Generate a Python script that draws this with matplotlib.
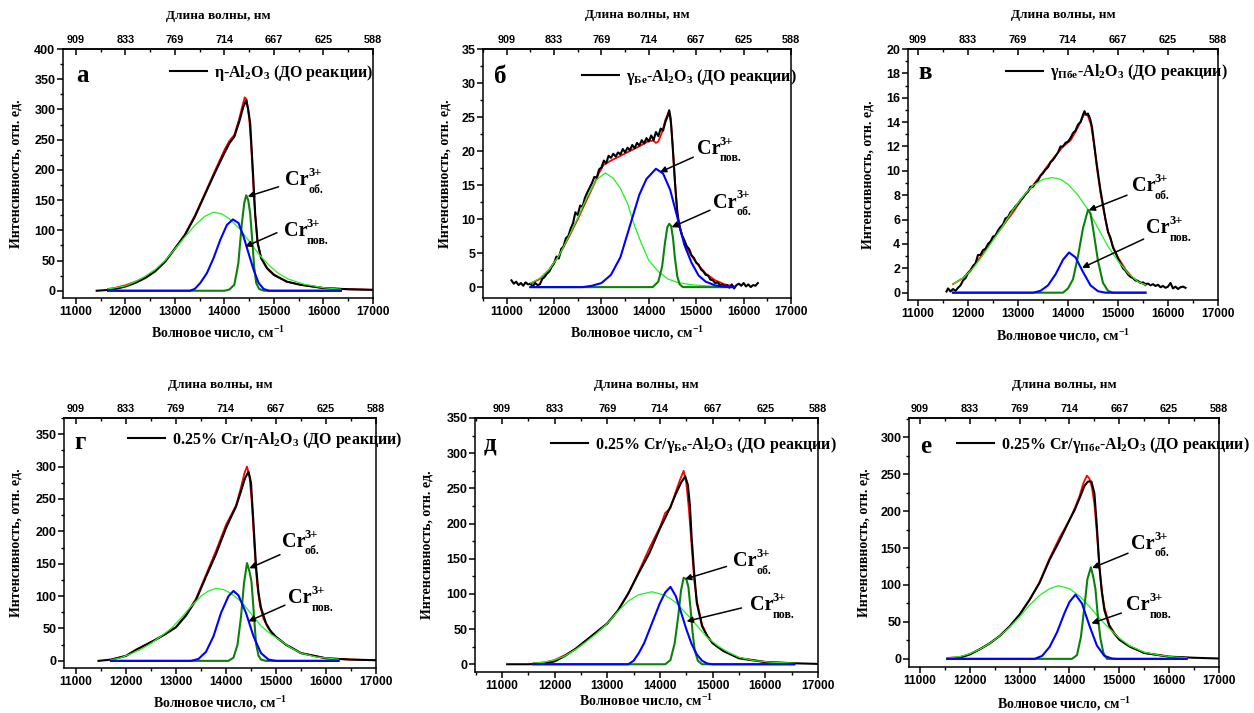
import matplotlib
matplotlib.use("Agg")
import matplotlib.pyplot as plt
from matplotlib.ticker import MultipleLocator
from matplotlib.lines import Line2D

plt.rcParams["font.family"] = ["Liberation Serif", "DejaVu Serif"]
plt.rcParams["font.weight"] = "bold"
plt.rcParams["mathtext.fontset"] = "custom"
plt.rcParams["mathtext.rm"] = "Liberation Serif:bold"
plt.rcParams["mathtext.bf"] = "Liberation Serif:bold"
plt.rcParams["mathtext.it"] = "Liberation Serif:bold"

# ---------------- common axis data ----------------
wn_ticks = [11000, 12000, 13000, 14000, 15000, 16000, 17000]
nm_labels = ["909", "833", "769", "714", "667", "625", "588"]

# ---------------- panel а: eta-Al2O3 ----------------
a_black_x = [11420, 11600, 11800, 12000, 12200, 12400, 12600, 12800, 13000, 13200, 13400, 13600, 13800, 14000,
             14100, 14200, 14300, 14380, 14440, 14480, 14520, 14570, 14620, 14670, 14740, 14860, 15000, 15260,
             15530, 16000, 16500, 17000]
a_black_y = [0, 1, 3, 7, 13, 21, 32, 48, 70, 92, 122, 158, 194, 228, 244, 255, 280, 304, 315, 300, 277, 205, 128,
             79, 54, 37, 26, 15, 10, 4.4, 2.5, 1.5]
a_red_x = [11650, 11800, 12000, 12200, 12400, 12600, 12800, 13000, 13200, 13400, 13600, 13800, 14000, 14100, 14200,
           14300, 14360, 14410, 14450, 14500, 14540, 14580, 14620, 14670, 14740, 14860, 15000, 15260, 15530, 16000,
           16500, 17000]
a_red_y = [3, 5, 9, 15, 22, 33, 48, 69, 93, 124, 160, 197, 233, 248, 258, 285, 305, 320, 316, 285, 240, 180, 125, 80,
           55, 38, 27, 15, 10, 4.5, 2.5, 1.5]
a_lg_x = [11650, 11800, 12000, 12200, 12400, 12600, 12800, 13000, 13200, 13400, 13600, 13780, 13950, 14100, 14300,
          14500, 14700, 14900, 15100, 15300, 15600, 16000, 16350]
a_lg_y = [3, 5, 8, 15, 24, 35, 50, 69, 89, 108, 123, 130, 127, 119, 103, 82, 60, 42, 28, 19, 11, 5, 2.5]
a_blue_x = [11650, 13300, 13400, 13510, 13645, 13780, 13915, 14050, 14170, 14285, 14385, 14487, 14588, 14690, 14790,
            14900, 16350]
a_blue_y = [0, 0, 3, 12.6, 29, 54, 84, 109, 118, 112, 90, 62, 35, 13, 3, 0, 0]
a_dg_x = [11650, 14000, 14100, 14200, 14280, 14350, 14400, 14440, 14480, 14520, 14560, 14600, 14640, 14700, 14800,
          16350]
a_dg_y = [0, 0, 2, 10, 45, 110, 145, 158, 150, 128, 85, 40, 13, 3, 0, 0]

# ---------------- panel б: gamma(Бе)-Al2O3 ----------------
b_black_x = sorted(list(range(11100, 14450, 50)) + [14430, 14460] + list(range(14500, 16350, 50)))
b_black_y = [1.0, 0.5, 0.8, 0.3, 0.6, 0.2, 0.7, 0.4, 0.5, 0.1, 0.6, 0.3, 0.4, 1.2, 1.5, 2.0, 2.3, 3.0, 3.5, 4.5,
             4.2, 5.6, 6.0, 7.2, 7.5, 8.6, 9.4, 11.0, 10.6, 12.0, 11.8, 13.1, 13.9, 14.6, 15.3, 16.2, 16.1, 17.3,
             17.6, 18.6, 18.2, 19.3, 19.0, 19.6, 19.2, 19.8, 19.5, 20.3, 19.8, 20.5, 20.1, 20.9, 20.4, 21.2, 20.8,
             21.6, 21.1, 21.9, 21.4, 22.3, 21.6, 22.8, 22.2, 23.3, 23.0, 24.3, 25.2, 26.0, 24.8, 21.0, 15.5, 11.0,
             8.8, 7.6, 6.9, 6.0, 5.6, 4.7, 4.3, 3.6, 3.3, 2.6, 2.3, 1.8, 1.7, 1.1, 1.0, 0.6, 0.7, 0.3, 0.4, 0.1, 0.3,
             -0.1, 0.4, -0.2, 0.3, 0.5, 0.2, 0.6, 0.1, 0.4, 0.0, 0.3, 0.2, 0.6]
b_red_x = [11500, 11700, 11900, 12100, 12300, 12500, 12700, 12850, 12950, 13050, 13200, 13400, 13600, 13800, 14000,
           14100, 14150, 14200, 14280, 14350, 14420, 14470, 14520, 14570, 14620, 14700, 14800, 14900, 15000, 15200,
           15400, 15600, 15800]
b_red_y = [0.5, 1.2, 2.6, 4.6, 7.2, 10.0, 13.0, 15.2, 16.8, 18.0, 18.6, 19.3, 20.0, 20.7, 21.5, 21.5, 21.2, 21.4,
           22.8, 24.6, 25.8, 24.0, 19.0, 13.5, 9.8, 7.6, 5.8, 4.6, 3.6, 2.0, 1.0, 0.4, 0.1]
b_lg_x = [11500, 11700, 11900, 12100, 12300, 12500, 12700, 12900, 13080, 13250, 13400, 13550, 13700, 13850, 14000,
          14200, 14400, 14600, 14900, 15300, 15800]
b_lg_y = [0.6, 1.3, 2.6, 4.6, 7.3, 10.2, 13.3, 15.8, 16.8, 16.0, 14.5, 12.3, 9.0, 6.3, 3.9, 2.3, 1.2, 0.7, 0.35,
          0.15, 0.05]
b_blue_x = [11500, 12600, 12800, 13000, 13200, 13400, 13600, 13800, 13950, 14150, 14300, 14450, 14600, 14750, 14900,
            15050, 15200, 15400, 15600, 15800]
b_blue_y = [0, 0, 0.2, 0.6, 1.8, 4.4, 9.0, 13.6, 15.9, 17.4, 16.7, 14.3, 10.3, 6.2, 3.6, 1.7, 0.8, 0.25, 0.05, 0]
b_dg_x = [11500, 14080, 14200, 14280, 14340, 14390, 14430, 14470, 14510, 14550, 14600, 14650, 14720, 15800]
b_dg_y = [0, 0, 0.8, 3.0, 6.5, 8.8, 9.3, 9.0, 7.2, 4.3, 1.6, 0.4, 0, 0]

# ---------------- panel в: gamma(Пбе)-Al2O3 ----------------
c_black_x = [11570] + list(range(11600, 14300, 50)) + [14300, 14330, 14360, 14400, 14440, 14480, 14520, 14560] + \
    list(range(14600, 16400, 50))
c_black_y = [0.1, 0.35, 0.1, 0.3, 0.15, 0.4, 0.6, 1.0, 1.2, 1.6, 1.8, 2.2, 2.4, 3.1, 3.1, 3.5, 3.6, 4.0, 4.2, 4.6,
             4.7, 5.1, 5.4, 5.6, 6.1, 6.2, 6.6, 6.8, 7.1, 7.3, 7.6, 7.8, 8.1, 8.3, 8.7, 8.7, 9.0, 9.2, 9.6, 9.8,
             10.1, 10.3, 10.7, 10.9, 11.2, 11.5, 12.0, 12.0, 12.3, 12.4, 12.7, 13.1, 13.3, 13.8, 14.0,
             14.6, 14.9, 14.6, 14.7, 14.3, 13.6, 12.3, 11.0,
             9.8, 8.4, 7.2, 6.0, 5.0, 4.5, 3.7, 3.3, 2.8, 2.4, 2.0, 1.8, 1.5, 1.3, 1.2, 1.0, 0.95, 0.8, 0.85, 0.7,
             0.75, 0.6, 0.7, 0.55, 0.65, 0.45, 0.55, 0.4, 0.5, 0.8, 0.35, 0.5, 0.3, 0.45, 0.5, 0.4]
c_red_x = [11700, 11900, 12100, 12300, 12500, 12700, 12900, 13100, 13300, 13500, 13700, 13900, 14050, 14150, 14250,
           14330, 14400, 14460, 14520, 14580, 14650, 14720, 14800, 14900, 15000, 15150, 15300, 15550]
c_red_y = [0.7, 1.2, 2.1, 3.2, 4.4, 5.5, 6.6, 7.8, 8.8, 9.9, 11.0, 12.0, 12.5, 13.2, 14.0, 14.7, 14.5, 13.8, 12.2,
           10.2, 8.2, 6.6, 5.0, 3.8, 2.9, 1.9, 1.2, 0.6]
c_lg_x = [11700, 11900, 12100, 12300, 12500, 12700, 12900, 13100, 13300, 13500, 13680, 13850, 14000, 14200, 14400,
          14600, 14800, 15000, 15200, 15400, 15550]
c_lg_y = [0.7, 1.2, 2.0, 3.1, 4.3, 5.5, 6.8, 7.9, 8.8, 9.3, 9.45, 9.3, 8.9, 8.0, 6.8, 5.3, 3.8, 2.6, 1.6, 0.9, 0.65]
c_blue_x = [11700, 13300, 13450, 13600, 13750, 13900, 14020, 14150, 14300, 14450, 14600, 14750, 15550]
c_blue_y = [0, 0, 0.15, 0.6, 1.5, 2.7, 3.3, 2.9, 1.7, 0.6, 0.12, 0, 0]
c_dg_x = [11700, 13900, 14000, 14100, 14200, 14300, 14400, 14450, 14500, 14600, 14700, 14800, 14900, 15550]
c_dg_y = [0, 0, 0.35, 1.1, 3.0, 5.3, 6.8, 6.5, 5.3, 2.6, 0.8, 0.15, 0, 0]

# ---------------- panel г: 0.25% Cr / eta-Al2O3 ----------------
d_black_x = [11450, 11700, 12000, 12200, 12400, 12600, 12800, 13000, 13200, 13400, 13600, 13800, 14000, 14100, 14200,
             14300, 14380, 14450, 14500, 14550, 14600, 14650, 14700, 14800, 14900, 15000, 15200, 15500, 16000,
             16500, 17000]
d_black_y = [0, 2, 7.7, 17, 25, 33, 42, 52, 70, 94, 130, 165, 205, 222, 238, 262, 282, 292, 275, 212, 146, 105, 82,
             58, 45, 37, 25, 12, 4, 2, 1]
d_red_x = [11700, 12000, 12200, 12400, 12600, 12800, 13000, 13200, 13400, 13600, 13800, 14000, 14100, 14200, 14300,
           14370, 14420, 14470, 14520, 14570, 14620, 14680, 14750, 14850, 15000, 15200, 15500, 16000, 16500, 17000]
d_red_y = [1.5, 8, 17, 25, 33, 42, 52, 71, 96, 133, 170, 210, 225, 240, 268, 290, 300, 285, 240, 175, 120, 85, 65,
           50, 37, 25, 12, 4, 2, 1]
d_lg_x = [11700, 11900, 12100, 12300, 12500, 12700, 12900, 13100, 13300, 13500, 13650, 13800, 13950, 14100, 14300,
          14500, 14700, 14900, 15100, 15300, 15500, 15800, 16250]
d_lg_y = [1.5, 5, 11, 18, 27, 38, 50, 66, 84, 100, 108, 112, 110, 104, 92, 73, 54, 41, 31, 20, 12, 6, 2.5]
d_blue_x = [11700, 13300, 13450, 13600, 13750, 13900, 14050, 14150, 14250, 14400, 14550, 14700, 14850, 15000, 16250]
d_blue_y = [0, 0, 3, 14, 38, 74, 100, 108, 101, 74, 38, 12, 2, 0, 0]
d_dg_x = [11700, 14050, 14150, 14230, 14300, 14360, 14420, 14470, 14510, 14550, 14600, 14650, 14700, 14800, 16250]
d_dg_y = [0, 0, 5, 25, 68, 120, 151, 138, 122, 80, 27, 8, 2, 0, 0]

# ---------------- panel д: 0.25% Cr / gamma(Бе)-Al2O3 ----------------
e_black_x = [11100, 11500, 11800, 12000, 12200, 12400, 12600, 12800, 13000, 13200, 13400, 13600, 13800, 14000, 14100,
             14200, 14300, 14400, 14480, 14530, 14570, 14600, 14650, 14700, 14800, 14900, 15000, 15200, 15500,
             16000, 16500, 17000]
e_black_y = [0, 0, 1, 4, 12, 22, 34, 46, 58, 76, 101, 130, 158, 193, 208, 224, 242, 258, 267, 255, 225, 182, 130, 87,
             54, 40, 30, 19, 8.5, 3, 1.5, 0.5]
e_red_x = [11600, 11800, 12000, 12200, 12400, 12600, 12800, 13000, 13200, 13400, 13600, 13800, 14000, 14100, 14200,
           14300, 14380, 14450, 14500, 14550, 14600, 14650, 14700, 14800, 14900, 15000, 15200, 15500, 16000, 16550]
e_red_y = [1.5, 2.5, 6, 13, 22, 34, 46, 58, 76, 100, 132, 165, 195, 215, 222, 245, 262, 275, 258, 220, 170, 120, 90,
           56, 40, 30, 19, 9, 3.5, 1.5]
e_lg_x = [11600, 11800, 12000, 12200, 12400, 12600, 12800, 13000, 13200, 13400, 13600, 13850, 14100, 14300, 14500,
          14700, 14900, 15100, 15300, 15500, 15800, 16100, 16550]
e_lg_y = [1.5, 3, 6, 12, 21, 32, 44, 58, 75, 90, 99, 103, 98, 88, 72, 55, 38, 26, 17, 10, 5, 3, 1.5]
e_blue_x = [11600, 13400, 13500, 13600, 13700, 13800, 13900, 14000, 14100, 14200, 14300, 14400, 14500, 14600, 14700,
            14800, 14900, 15000, 16550]
e_blue_y = [0, 0, 5, 16, 30, 49, 68, 87, 102, 110, 97, 74, 50, 29, 14, 5, 1, 0, 0]
e_dg_x = [11600, 14100, 14200, 14280, 14350, 14400, 14450, 14500, 14540, 14580, 14620, 14660, 14720, 14800, 16550]
e_dg_y = [0, 0, 6, 30, 70, 105, 123, 121, 110, 80, 45, 20, 5, 0, 0]

# ---------------- panel е: 0.25% Cr / gamma(Пбе)-Al2O3 ----------------
f_black_x = [11550, 11800, 12000, 12200, 12400, 12600, 12800, 13000, 13200, 13400, 13600, 13800, 14000, 14100, 14200,
             14300, 14370, 14440, 14500, 14550, 14600, 14650, 14700, 14800, 14900, 15000, 15200, 15500, 16000,
             16500, 17000]
f_black_y = [0, 1.5, 6, 13, 21, 31, 44, 60, 80, 103, 134, 160, 188, 201, 217, 234, 240, 240, 224, 179, 125, 90, 66,
             44, 34, 26, 17, 8, 3, 1.5, 0.5]
f_red_x = [11550, 11800, 12000, 12200, 12400, 12600, 12800, 13000, 13200, 13400, 13600, 13800, 14000, 14100, 14200,
           14280, 14350, 14400, 14450, 14500, 14550, 14600, 14650, 14700, 14800, 14900, 15000, 15200, 15500, 16000,
           16350]
f_red_y = [1.3, 2.5, 6.5, 13, 21, 31, 44, 60, 80, 104, 136, 164, 188, 203, 220, 238, 248, 244, 232, 210, 170, 125,
           92, 70, 46, 35, 27, 17, 8, 3, 1.5]
f_lg_x = [11550, 11800, 12000, 12200, 12400, 12600, 12800, 13000, 13200, 13400, 13600, 13780, 14000, 14200, 14400,
          14600, 14800, 15000, 15200, 15500, 15800, 16100, 16350]
f_lg_y = [1.3, 3, 7, 13, 21, 31, 43, 57, 73, 86, 95, 99, 95, 85, 71, 55, 41, 28, 18, 9, 5, 2.5, 1.5]
f_blue_x = [11550, 13300, 13450, 13600, 13750, 13900, 14000, 14120, 14250, 14400, 14550, 14700, 14850, 14950, 16350]
f_blue_y = [0, 0, 4, 16, 36, 62, 77, 87, 75, 45, 18, 4, 0.5, 0, 0]
f_dg_x = [11550, 14050, 14150, 14230, 14300, 14360, 14430, 14480, 14520, 14570, 14620, 14680, 14750, 16350]
f_dg_y = [0, 0, 5, 30, 71, 108, 124, 110, 95, 57, 28, 8, 0, 0]

# ---------------- text ----------------
panel_letters = ["а", "б", "в", "г", "д", "е"]
legend_labels = [
    r"η-Al$_{2}$O$_{3}$ (ДО реакции)",
    r"γ$_{Бе}$-Al$_{2}$O$_{3}$ (ДО реакции)",
    r"γ$_{Пбе}$-Al$_{2}$O$_{3}$ (ДО реакции)",
    r"0.25% Cr/η-Al$_{2}$O$_{3}$ (ДО реакции)",
    r"0.25% Cr/γ$_{Бе}$-Al$_{2}$O$_{3}$ (ДО реакции)",
    r"0.25% Cr/γ$_{Пбе}$-Al$_{2}$O$_{3}$ (ДО реакции)",
]
ion_text = "Cr"
ion_charge = "3+"
site_bulk = "об."
site_surf = "пов."
xlabel_text = r"Волновое число, см$^{-1}$"
toplabel_text = "Длина волны, нм"
ylabel_text = "Интенсивность, отн. ед."

# ---------------- layout (pixels: left, right, top, bottom) ----------------
W, H = 1254, 713
boxes = [(63, 373, 49, 298), (483, 791, 49, 298), (908, 1218, 49, 300),
         (64, 376, 418, 668), (475, 818, 418, 672), (909, 1219, 418, 667)]
xlims = [(10740, 17000), (10500, 17000), (10800, 17000), (10760, 17000), (10490, 17000), (10780, 17000)]
ylims = [(-12, 400), (-1.6, 35), (-0.6, 20), (-11, 375), (-11, 350), (-11, 326)]
ysteps = [50, 5, 2, 50, 50, 50]
ymax_tick = [400, 35, 20, 350, 350, 300]
legend_pos = [(0.345, 0.904), (0.321, 0.888), (0.316, 0.908), (0.205, 0.912), (0.222, 0.894), (0.155, 0.892)]
letter_pos = [(0.042, 0.867), (0.036, 0.863), (0.032, 0.88), (0.032, 0.876), (0.026, 0.874), (0.035, 0.859)]
ylabel_x = [-0.152, -0.123, -0.129, -0.154, -0.14, -0.145]
xlabel_y = [-0.141, -0.141, -0.143, -0.14, -0.114, -0.149]
toplabel_y = [1.133, 1.137, 1.135, 1.132, 1.13, 1.133]

# annotations: (text x, text baseline y, arrow tail, arrow head)
bulk_notes = [((15228, 175), (15093, 172), (14470, 156)),
              ((15360, 11.7), (15290, 11.3), (14481, 8.8)),
              ((15280, 8.31), (15180, 8.0), (14413, 6.76)),
              ((15113, 176.5), (15080, 164), (14467, 143)),
              ((15390, 139), (15264, 139), (14474, 121)),
              ((15242, 149), (15175, 143), (14454, 123))]
surf_notes = [((15194, 90), (15060, 96), (14419, 73)),
              ((15008, 19.6), (14938, 19.1), (14235, 16.9)),
              ((15567, 4.9), (15513, 4.4), (14280, 2.04)),
              ((15247, 89), (15180, 86), (14447, 61)),
              ((15706, 77), (15548, 80), (14506, 61)),
              ((15142, 66), (15041, 62), (14440, 48))]

series = [
    (a_black_x, a_black_y, a_red_x, a_red_y, a_lg_x, a_lg_y, a_blue_x, a_blue_y, a_dg_x, a_dg_y),
    (b_black_x, b_black_y, b_red_x, b_red_y, b_lg_x, b_lg_y, b_blue_x, b_blue_y, b_dg_x, b_dg_y),
    (c_black_x, c_black_y, c_red_x, c_red_y, c_lg_x, c_lg_y, c_blue_x, c_blue_y, c_dg_x, c_dg_y),
    (d_black_x, d_black_y, d_red_x, d_red_y, d_lg_x, d_lg_y, d_blue_x, d_blue_y, d_dg_x, d_dg_y),
    (e_black_x, e_black_y, e_red_x, e_red_y, e_lg_x, e_lg_y, e_blue_x, e_blue_y, e_dg_x, e_dg_y),
    (f_black_x, f_black_y, f_red_x, f_red_y, f_lg_x, f_lg_y, f_blue_x, f_blue_y, f_dg_x, f_dg_y),
]

C_RED = "#ff0000"
C_LG = "#22f022"
C_BLUE = "#0000ff"
C_DG = "#0a820a"


def ion_label(ax, pos, site):
    """Cr with a charge superscript and a site subscript."""
    x, y = pos
    ax.text(x, y, ion_text, ha="left", va="baseline", fontsize=14.5, zorder=9)
    ax.annotate(ion_charge, xy=(x, y), xytext=(16.5, 6.5), textcoords="offset points",
                ha="left", va="baseline", fontsize=9, zorder=9)
    ax.annotate(site, xy=(x, y), xytext=(16.5, -5.5), textcoords="offset points",
                ha="left", va="baseline", fontsize=8.5, zorder=9)


fig = plt.figure(figsize=(W / 100, H / 100), dpi=100)

for i in range(6):
    l, r, t, b = boxes[i]
    ax = fig.add_axes([l / W, 1 - b / H, (r - l) / W, (b - t) / H])
    bx, by, rx, ry, gx, gy, ux, uy, dx, dy = series[i]

    ax.plot(rx, ry, color=C_RED, lw=1.3, zorder=2)
    ax.plot(bx, by, color="black", lw=1.5, zorder=3)
    ax.plot(gx, gy, color=C_LG, lw=0.9, zorder=4)
    ax.plot(dx, dy, color=C_DG, lw=1.5, zorder=5)
    ax.plot(ux, uy, color=C_BLUE, lw=1.5, zorder=6)

    ax.set_xlim(*xlims[i])
    ax.set_ylim(*ylims[i])
    ax.set_xticks(wn_ticks)
    ax.xaxis.set_minor_locator(MultipleLocator(500))
    yt = list(range(0, ymax_tick[i] + 1, ysteps[i]))
    ax.set_yticks(yt)
    ax.yaxis.set_minor_locator(MultipleLocator(ysteps[i] / 2))
    ax.tick_params(axis="x", which="major", direction="out", length=4, width=1.1,
                   labelsize=8.6, labelfontfamily="Liberation Sans", pad=2)
    ax.tick_params(axis="x", which="minor", direction="out", length=2.5, width=1.0)
    ax.tick_params(axis="y", which="major", direction="out", length=4, width=1.1,
                   labelsize=9, labelfontfamily="Liberation Sans", pad=1.5)
    ax.tick_params(axis="y", which="minor", direction="out", length=2.5, width=1.0)
    for s in ax.spines.values():
        s.set_linewidth(1.1)

    sec = ax.secondary_xaxis("top")
    sec.set_xticks(wn_ticks, labels=nm_labels)
    sec.xaxis.set_minor_locator(MultipleLocator(500))
    sec.tick_params(axis="x", which="major", direction="in", length=4, width=1.1,
                    labelsize=7.8, labelfontfamily="Liberation Sans", pad=3)
    sec.tick_params(axis="x", which="minor", direction="in", length=2.5, width=1.0)
    sec.spines["top"].set_linewidth(1.1)

    ax.text(0.5, xlabel_y[i], xlabel_text, transform=ax.transAxes, ha="center", va="center",
            fontsize=10)
    ax.text(0.5, toplabel_y[i], toplabel_text, transform=ax.transAxes, ha="center", va="center",
            fontsize=9.5)
    ax.text(ylabel_x[i], 0.5, ylabel_text, transform=ax.transAxes, ha="center", va="center",
            rotation=90, fontsize=10)

    lx, ly = letter_pos[i]
    ax.text(lx, ly, panel_letters[i], transform=ax.transAxes, ha="left", va="baseline", fontsize=18)

    handle = Line2D([], [], color="black", lw=1.5)
    ax.legend([handle], [legend_labels[i]], loc="center left", bbox_to_anchor=legend_pos[i],
              frameon=False, fontsize=11.5, handlelength=2.3, handletextpad=0.45,
              borderpad=0, borderaxespad=0)

    for (tx, ty), tail, head in (bulk_notes[i], surf_notes[i]):
        ax.annotate("", xy=head, xytext=tail,
                    arrowprops=dict(arrowstyle="-|>", color="black", lw=1.1,
                                    mutation_scale=9, shrinkA=0, shrinkB=0), zorder=8)
    ion_label(ax, bulk_notes[i][0], site_bulk)
    ion_label(ax, surf_notes[i][0], site_surf)

fig.savefig("out.png", dpi=100)
